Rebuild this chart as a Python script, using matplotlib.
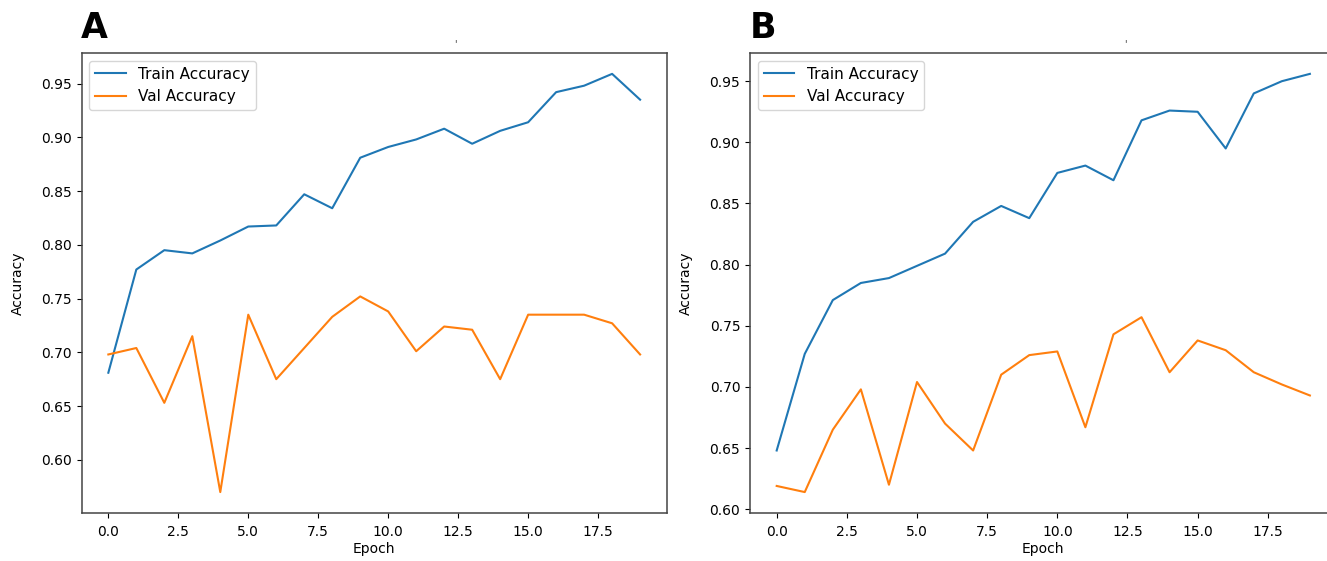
import matplotlib
matplotlib.use("Agg")
import matplotlib.pyplot as plt

epochs = list(range(20))

# panel A
train_acc_a = [0.681, 0.777, 0.795, 0.792, 0.804, 0.817, 0.818, 0.847, 0.834, 0.881,
               0.891, 0.898, 0.908, 0.894, 0.906, 0.914, 0.942, 0.948, 0.959, 0.935]
val_acc_a = [0.698, 0.704, 0.653, 0.715, 0.570, 0.735, 0.675, 0.704, 0.733, 0.752,
             0.738, 0.701, 0.724, 0.721, 0.675, 0.735, 0.735, 0.735, 0.727, 0.698]

# panel B
train_acc_b = [0.648, 0.727, 0.771, 0.785, 0.789, 0.799, 0.809, 0.835, 0.848, 0.838,
               0.875, 0.881, 0.869, 0.918, 0.926, 0.925, 0.895, 0.940, 0.950, 0.956]
val_acc_b = [0.619, 0.614, 0.665, 0.698, 0.620, 0.704, 0.670, 0.648, 0.710, 0.726,
             0.729, 0.667, 0.743, 0.757, 0.712, 0.738, 0.730, 0.712, 0.702, 0.693]

panels = ["A", "B"]

fig = plt.figure(figsize=(13.27, 5.61), dpi=100)

# axes placed by hand to mimic the pasted-together screenshot (B is cut off at right)
ax_a = fig.add_axes([0.0616, 0.0856, 0.4408, 0.820])
ax_b = fig.add_axes([0.5652, 0.0856, 0.4420, 0.820])

for ax, tr, va in [(ax_a, train_acc_a, val_acc_a), (ax_b, train_acc_b, val_acc_b)]:
    ax.plot(epochs, tr, label="Train Accuracy")
    ax.plot(epochs, va, label="Val Accuracy")
    ax.set_xlabel("Epoch", labelpad=2)
    ax.set_ylabel("Accuracy", labelpad=12)
    ax.tick_params(axis="x", pad=5)
    for s in ax.spines.values():
        s.set_edgecolor("#444444")
        s.set_linewidth(1.1)
    ax.legend(loc="upper left", fontsize=11)

# panel letters
fig.text(0.061, 0.980, panels[0], fontsize=25, fontweight="bold", va="top", ha="left")
fig.text(0.565, 0.980, panels[1], fontsize=25, fontweight="bold", va="top", ha="left")

# leftover bits of cropped titles
fig.text(0.343, 0.912, "'", fontsize=7, color="#333333", ha="center", va="bottom")
fig.text(0.848, 0.912, "'", fontsize=7, color="#333333", ha="center", va="bottom")

plt.savefig("out.png", dpi=100)
